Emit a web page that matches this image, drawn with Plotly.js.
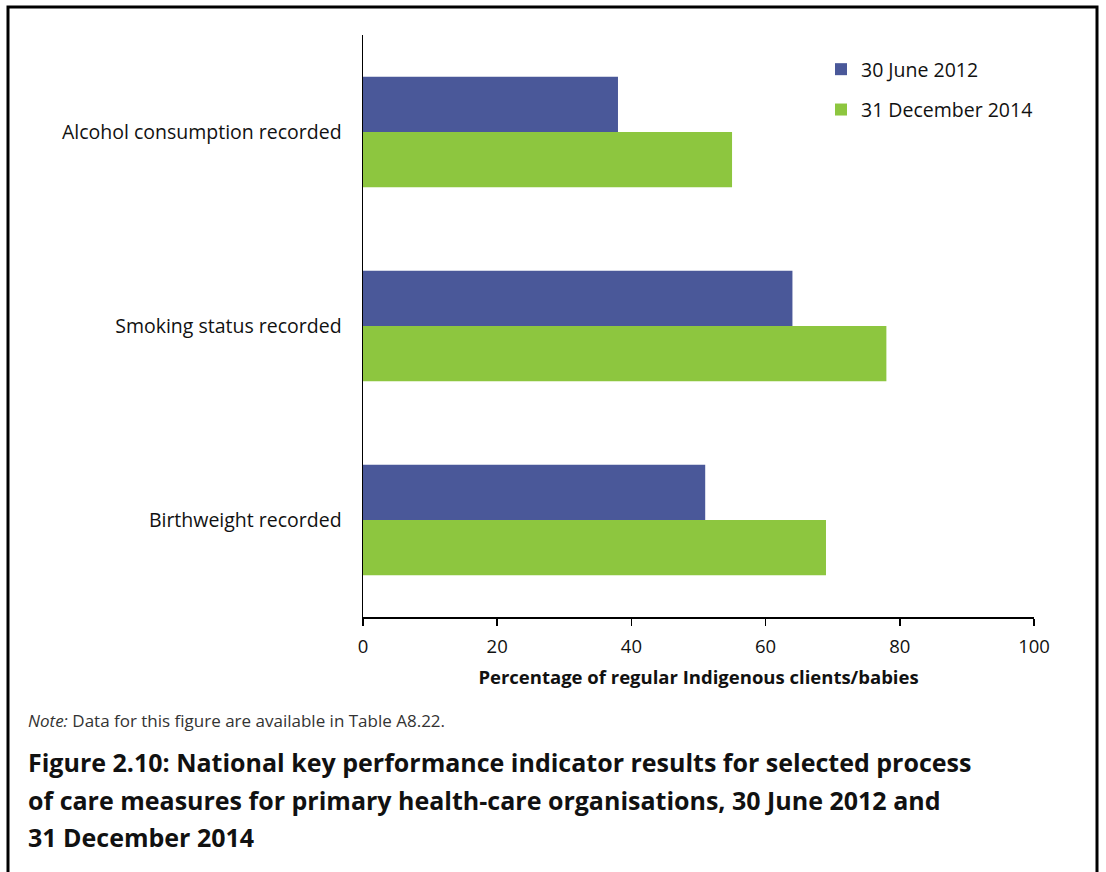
<!DOCTYPE html>
<html>
<head>
<meta charset="utf-8">
<script src="https://cdn.plot.ly/plotly-3.0.1.min.js"></script>
<style>html,body{margin:0;padding:0;background:#fff;}</style>
</head>
<body>
<div id="chart" style="width:1106px;height:872px;"></div>
<script>
const categories = ["Alcohol consumption recorded", "Smoking status recorded", "Birthweight recorded"];
const seriesNames = ["30 June 2012", "31 December 2014"];
const values2012 = [38, 64, 51];
const values2014 = [55, 78, 69];
const xTicks = [0, 20, 40, 60, 80, 100];

const FONT = "Open Sans, Noto Sans, sans-serif";
const traces = [
  {type: "bar", orientation: "h", name: seriesNames[0], y: categories, x: values2012,
   marker: {color: "#4A5899"}, legendgroup: "a", hoverinfo: "x+y"},
  {type: "bar", orientation: "h", name: seriesNames[1], y: categories, x: values2014,
   marker: {color: "#8DC63F"}, legendgroup: "b", hoverinfo: "x+y"}
];

const W = 671, H = 582;
function px(x){ return (x - 363) / W; }
function py(y){ return (617 - y) / H; }

const layout = {
  width: 1106, height: 872,
  margin: {l: 363, r: 72, t: 35, b: 255},
  paper_bgcolor: "#fff", plot_bgcolor: "#fff",
  font: {family: FONT, color: "#111", size: 17},
  barmode: "group", bargap: 0.43, bargroupgap: 0,
  showlegend: true,
  legend: {x: px(821), y: py(50), xanchor: "left", yanchor: "top", itemwidth: 30,
           font: {size: 19.5, family: FONT}, tracegroupgap: 12, bgcolor: "rgba(0,0,0,0)"},
  xaxis: {range: [0, 100], tickvals: xTicks, ticktext: xTicks.map(String),
          showgrid: false, zeroline: false, showline: true, linecolor: "#000", linewidth: 1.5,
          ticks: "outside", ticklen: 7, tickcolor: "#000", tickwidth: 1.5,
          tickfont: {size: 18.5, family: FONT}, ticklabelstandoff: 5,
          title: {text: "<b>Percentage of regular Indigenous clients/babies</b>", font: {size: 18.5, family: FONT}, standoff: 14}},
  yaxis: {type: "category", autorange: "reversed", showgrid: false, zeroline: false,
          showline: true, linecolor: "#000", linewidth: 1.5, ticks: "",
          tickfont: {size: 19.5, family: FONT}, ticklabelstandoff: 16},
  shapes: [
    {type: "rect", xref: "paper", yref: "paper", x0: px(8), x1: px(1097), y0: py(900), y1: py(7),
     line: {color: "#000", width: 3}, fillcolor: "rgba(0,0,0,0)", layer: "below"}
  ],
  annotations: [
    {xref: "paper", yref: "paper", x: px(26), y: py(720), xanchor: "left", yanchor: "middle", showarrow: false,
     text: "<i>Note:</i> Data for this figure are available in Table A8.22.", font: {size: 17, family: FONT, color: "#333"}},
    {xref: "paper", yref: "paper", x: px(26), y: py(762), xanchor: "left", yanchor: "middle", showarrow: false,
     text: "<b>Figure 2.10: National key performance indicator results for selected process</b>", font: {size: 25, family: FONT, color: "#111"}},
    {xref: "paper", yref: "paper", x: px(26), y: py(800), xanchor: "left", yanchor: "middle", showarrow: false,
     text: "<b>of care measures for primary health-care organisations, 30 June 2012 and</b>", font: {size: 25, family: FONT, color: "#111"}},
    {xref: "paper", yref: "paper", x: px(26), y: py(837), xanchor: "left", yanchor: "middle", showarrow: false,
     text: "<b>31 December 2014</b>", font: {size: 25, family: FONT, color: "#111"}}
  ]
};

Plotly.newPlot("chart", traces, layout, {displayModeBar: false, staticPlot: true});
</script>
</body>
</html>
